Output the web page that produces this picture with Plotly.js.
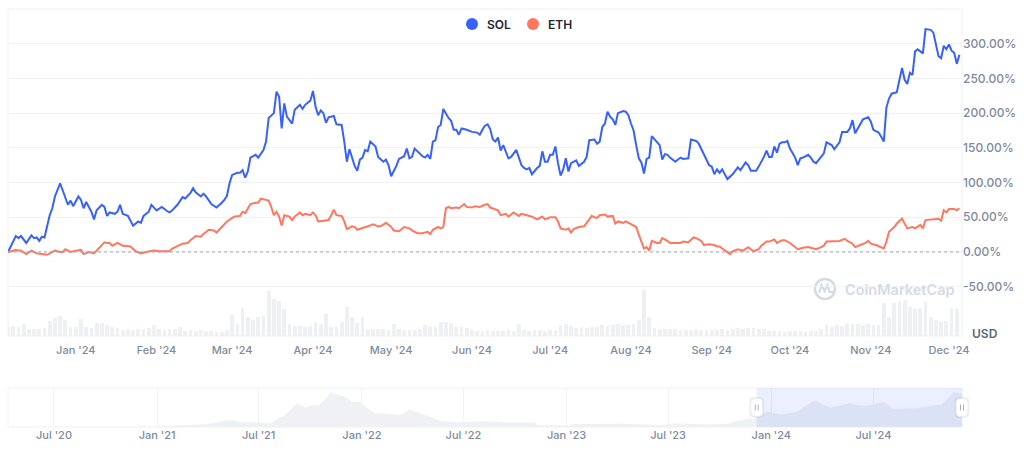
<!DOCTYPE html>
<html><head><meta charset="utf-8">
<script src="https://cdn.plot.ly/plotly-3.0.1.min.js"></script>
<style>html,body{margin:0;padding:0;background:#fff;overflow:hidden}#chart{width:1024px;height:449px}</style>
</head><body><div id="chart"></div>
<script>
// ---------------- DATA ----------------
const seriesNames = ['SOL', 'ETH'];
const seriesColors = ['#3861FB', '#FF775F'];
const startDate = '2023-12-06';   // day 0 of the percent-change series
const endDate = '2024-12-06';

// SOL: % change since start, sampled at day offsets
const solDay = [0,3,4,5,7,9,10,11,12,13,14,16,17,18,20,22,23,24,25,27,28,29,30,32,33,34,36,37,38,39,41,42,43,44,46,48,50,51,52,54,55,57,59,61,62,63,65,67,68,70,71,72,74,75,76,78,80,82,83,84,85,86,88,89,90,91,92,93,95,96,98,99,100,102,103,104,105,106,107,109,110,112,113,114,116,117,118,119,120,121,122,123,125,126,128,129,130,131,133,134,135,136,137,138,139,141,142,144,145,146,147,149,150,152,153,154,155,156,158,159,160,161,162,163,164,165,166,167,169,170,171,172,173,174,176,178,180,181,182,183,184,185,186,187,188,189,190,191,192,193,195,196,197,198,199,200,201,203,204,205,206,207,208,209,210,211,212,213,214,215,216,218,219,221,222,223,225,226,227,228,229,230,231,232,233,234,236,237,238,239,240,241,242,243,244,245,246,247,249,250,251,252,253,254,256,257,258,259,261,262,264,265,267,268,269,270,271,272,273,274,275,276,278,280,281,282,283,284,285,287,288,290,291,292,293,294,295,296,297,298,299,300,302,303,304,305,307,308,309,310,312,313,314,316,317,319,320,322,323,324,325,327,328,330,331,332,334,335,336,337,338,339,341,342,343,344,345,346,347,348,349,350,351,352,354,355,356,357,358,359,360,361,362,363,364,365];
const solPct = [0,23,20,23,13,24,20,21,16,22,21,53,63,80,99,80,68,74,66,80,75,63,72,58,47,60,68,65,52,57,55,58,68,55,52,38,44,42,52,58,68,60,65,59,57,60,68,79,77,85,92,86,80,84,80,69,64,71,75,81,99,111,114,114,118,107,116,136,140,136,147,159,193,200,231,224,178,214,195,185,205,212,206,212,218,232,209,197,204,200,186,194,196,184,183,159,130,148,124,117,133,136,147,145,159,152,137,130,133,125,109,124,134,138,149,135,137,149,141,138,136,140,134,159,161,180,183,206,193,189,176,176,169,178,176,173,172,169,176,182,184,177,162,159,165,146,154,145,135,137,147,136,125,121,119,121,112,121,124,145,130,130,140,140,152,128,110,119,135,116,128,132,124,130,137,161,162,156,159,180,185,202,195,191,183,200,203,202,197,185,175,154,135,129,113,134,136,167,158,154,133,141,140,136,130,133,136,134,135,162,160,156,140,133,125,123,112,119,114,119,112,105,112,122,118,124,129,125,117,117,123,137,146,137,137,152,143,156,158,158,160,149,136,125,135,136,140,136,130,128,138,142,158,154,148,158,173,173,178,190,171,183,191,194,188,176,172,166,159,208,221,228,230,248,265,248,242,258,255,289,292,289,286,321,320,316,298,282,279,297,292,299,290,287,271,284];

// ETH: % change since start, sampled at day offsets
const ethDay = [0,3,5,7,9,11,13,15,16,18,20,21,22,24,26,28,29,31,33,34,35,37,38,39,40,42,44,46,47,49,51,53,55,56,58,60,62,63,65,67,69,70,72,74,75,77,79,80,82,84,86,87,89,90,91,93,95,96,97,99,100,101,102,103,104,105,106,108,109,110,112,113,114,116,117,118,119,121,123,124,125,126,128,129,130,132,133,134,136,138,140,142,143,145,147,148,150,152,154,155,157,159,161,162,163,165,166,167,168,169,170,172,173,175,176,178,179,181,183,184,185,187,188,189,191,192,194,196,197,199,201,203,204,205,206,208,210,211,212,214,215,216,217,219,221,222,224,225,226,227,229,230,232,233,234,236,237,239,241,242,243,244,245,246,247,249,250,251,253,254,256,258,259,261,263,264,266,267,269,271,272,273,274,277,278,280,282,284,285,286,288,289,291,292,294,295,297,298,300,302,303,305,307,308,310,312,313,314,316,318,319,321,322,324,325,327,329,330,331,333,334,336,337,338,340,341,343,344,345,347,348,350,351,352,354,355,357,358,359,360,361,363,364,365];
const ethPct = [0,3,2,-3,2,-2,-3,-4,-2,2,0,0,4,0,2,3,-3,0,-2,2,5,14,13,13,9,13,9,9,8,1,-2,0,2,2,1,1,1,5,8,12,13,17,23,22,26,32,31,28,36,44,49,51,52,58,56,69,71,71,77,75,74,65,53,58,51,38,53,51,46,51,57,53,55,53,57,53,44,45,46,53,61,53,52,44,33,37,36,32,34,37,40,37,37,42,36,31,30,36,34,31,27,27,29,26,32,36,34,36,63,65,63,64,63,69,65,64,66,65,68,69,64,61,60,53,55,51,57,52,55,53,51,47,49,51,47,50,50,44,34,32,34,28,33,36,37,42,52,50,49,53,54,51,52,41,44,42,44,40,36,25,15,5,7,2,16,13,13,20,16,13,13,13,15,14,21,20,16,10,11,10,8,8,5,-3,1,4,2,7,4,1,4,9,15,15,18,13,17,17,13,7,4,6,7,6,4,7,9,15,15,15,16,19,16,12,7,10,13,16,12,10,8,5,15,29,36,41,48,40,34,36,34,39,34,46,47,47,48,45,60,57,62,62,60,63];

// Volume (billion USD), one value every volStepDays days from startDate
const volStepDays = 2;
const volUsdBn = [2.0,2.2,2.0,2.5,1.5,1.6,1.4,1.8,3.3,3.8,4.2,3.5,2.0,1.9,3.6,2.0,1.8,2.8,2.8,2.4,2.0,1.8,1.3,1.4,1.3,1.4,1.5,1.8,2.4,1.6,1.3,1.4,1.6,1.9,1.1,1.2,1.0,1.2,1.1,1.0,0.9,0.9,1.2,4.5,2.6,6.0,4.0,3.5,4.0,4.2,9.6,8.0,7.5,5.8,2.6,2.2,2.1,2.0,2.2,3.0,2.5,4.8,2.0,2.0,3.0,6.2,4.0,2.8,4.0,1.5,1.4,1.6,1.5,1.3,2.6,1.4,1.3,1.2,1.3,1.4,2.3,2.2,2.0,3.0,3.0,2.8,2.0,1.9,1.8,1.2,1.1,1.0,1.2,1.1,1.0,1.1,1.2,1.0,2.5,1.2,1.1,1.3,1.2,1.1,1.2,1.3,2.4,2.6,2.2,1.8,1.9,1.8,1.9,2.0,2.3,2.2,2.3,2.5,2.3,2.4,2.6,3.4,9.9,4.0,1.8,1.6,1.5,1.5,1.4,1.3,1.2,1.3,1.4,1.3,1.2,1.3,1.2,1.4,1.3,1.5,1.7,1.6,1.8,1.7,1.6,1.5,1.1,1.0,1.0,0.9,1.0,1.1,1.0,0.9,1.0,1.1,1.4,2.3,2.0,2.4,2.2,2.7,2.6,2.5,2.4,2.5,2.4,2.3,7.0,4.0,7.0,7.5,7.8,6.2,5.8,6.0,7.3,4.0,3.4,3.0,3.2,5.9,5.8];

// Navigator: SOL price history (USD)
const navDate = ['2020-04-10','2020-06-01','2020-08-01','2020-09-01','2020-11-01','2021-01-01','2021-02-01','2021-03-01','2021-04-01','2021-05-01','2021-05-18','2021-06-01','2021-07-01','2021-07-20','2021-08-15','2021-09-08','2021-09-22','2021-10-05','2021-10-15','2021-10-28','2021-11-06','2021-11-20','2021-12-01','2021-12-15','2021-12-28','2022-01-10','2022-01-22','2022-02-15','2022-03-10','2022-03-28','2022-04-15','2022-05-05','2022-05-20','2022-06-18','2022-07-15','2022-08-15','2022-09-15','2022-10-15','2022-11-05','2022-11-10','2022-12-29','2023-01-15','2023-02-15','2023-04-15','2023-06-15','2023-07-15','2023-08-15','2023-09-15','2023-10-15','2023-11-01','2023-11-15','2023-12-01','2023-12-25','2024-01-20','2024-02-15','2024-03-18','2024-04-15','2024-05-20','2024-06-15','2024-07-20','2024-08-05','2024-09-15','2024-10-15','2024-11-01','2024-11-12','2024-11-22','2024-12-06'];
const navPrice = [0.9,0.6,3,4,2,1.8,10,15,20,45,50,35,33,25,80,170,140,160,150,200,250,230,220,180,180,140,100,95,85,125,100,70,45,32,38,42,33,30,32,14,10,22,24,24,15,25,22,19,23,40,58,60,110,90,110,190,140,170,150,180,130,135,155,165,210,255,235];
const navStart = '2020-04-10';

const yTickVals = [-50, 0, 50, 100, 150, 200, 250, 300];
const currencyLabel = 'USD';
const watermarkText = 'CoinMarketCap';

// ---------------- BUILD ----------------
const DAY = 864e5;
const t0 = Date.parse(startDate + 'T00:00:00Z');
const toDate = d => new Date(t0 + d * DAY).toISOString().slice(0, 10);
const solX = solDay.map(toDate);
const ethX = ethDay.map(toDate);
const volX = volUsdBn.map((_, i) => toDate(i * volStepDays));

const W = 1024, H = 449, mL = 8, mR = 62, mT = 9, mB = 22;
const paperW = W - mL - mR, paperH = H - mT - mB;
const px = x => (x - mL) / paperW;
const py = y => (H - mB - y) / paperH;

// navigator selection position as paper fraction (from the dates)
const tNav0 = Date.parse(navStart + 'T00:00:00Z'), tNav1 = Date.parse(endDate + 'T00:00:00Z');
const navFrac = d => (Date.parse(d + 'T00:00:00Z') - tNav0) / (tNav1 - tNav0);

const FONT = 'Inter, "Noto Sans", sans-serif';
const GREY = '#808A9D';

const traces = [
  { type: 'bar', x: volX, y: volUsdBn, xaxis: 'x', yaxis: 'y3',
    width: volStepDays * DAY * 0.72, marker: { color: '#EEF0F4', line: { width: 0 } }, hoverinfo: 'skip' },
  { type: 'scatter', mode: 'lines', name: seriesNames[0], x: solX, y: solPct,
    line: { color: seriesColors[0], width: 2 }, xaxis: 'x', yaxis: 'y' },
  { type: 'scatter', mode: 'lines', name: seriesNames[1], x: ethX, y: ethPct,
    line: { color: seriesColors[1], width: 2 }, xaxis: 'x', yaxis: 'y' },
  { type: 'scatter', mode: 'lines', x: navDate, y: navPrice, xaxis: 'x2', yaxis: 'y2',
    fill: 'tozeroy', fillcolor: '#EFF1F4', line: { color: '#EFF1F4', width: 0 }, hoverinfo: 'skip' }
];

const mainBottom = py(336), navTop = py(388);
const navMid = navTop / 2;

function handle(xf) {
  return [
    { type: 'path', xref: 'paper', xsizemode: 'pixel', xanchor: xf, yref: 'paper', ysizemode: 'pixel', yanchor: navMid,
      path: 'M -7.5 -6 Q -7.5 -10.5 -3 -10.5 L 3 -10.5 Q 7.5 -10.5 7.5 -6 L 7.5 6 Q 7.5 10.5 3 10.5 L -3 10.5 Q -7.5 10.5 -7.5 6 Z',
      fillcolor: 'rgba(0,0,0,0.05)', line: { width: 0 }, layer: 'above' },
    { type: 'path', xref: 'paper', xsizemode: 'pixel', xanchor: xf, yref: 'paper', ysizemode: 'pixel', yanchor: navMid,
      path: 'M -6 -5 Q -6 -9 -2 -9 L 2 -9 Q 6 -9 6 -5 L 6 5 Q 6 9 2 9 L -2 9 Q -6 9 -6 5 Z',
      fillcolor: '#FFFFFF', line: { color: '#E6E9EF', width: 1 }, layer: 'above' },
    { type: 'path', xref: 'paper', xsizemode: 'pixel', xanchor: xf, yref: 'paper', ysizemode: 'pixel', yanchor: navMid,
      path: 'M -1.5 -3 L -1.5 3 M 1.5 -3 L 1.5 3', line: { color: '#A6B0C3', width: 1 }, layer: 'above' }
  ];
}

const shapes = [
  // main plot frame
  { type: 'rect', xref: 'paper', yref: 'paper', x0: 0, x1: 1, y0: mainBottom, y1: 1,
    line: { color: '#EEF1F5', width: 1 }, fillcolor: 'rgba(0,0,0,0)', layer: 'below' },
  // dotted zero line
  { type: 'line', xref: 'paper', x0: 0, x1: 1, yref: 'y', y0: 0, y1: 0,
    line: { color: '#A1A7B3', width: 1, dash: 'dot' }, layer: 'above' },
  // navigator frame
  { type: 'rect', xref: 'paper', yref: 'paper', x0: 0, x1: 1, y0: 0, y1: navTop,
    line: { color: '#F0F2F5', width: 1 }, fillcolor: 'rgba(0,0,0,0)', layer: 'below' },
  // navigator selection
  { type: 'rect', xref: 'x2', x0: startDate, x1: endDate, yref: 'paper', y0: 0, y1: navTop,
    fillcolor: 'rgba(56,97,251,0.10)', line: { width: 0 }, layer: 'above' },
  ...handle(navFrac(startDate)), ...handle(navFrac(endDate)),
  // legend dots
  { type: 'circle', xref: 'paper', xsizemode: 'pixel', xanchor: px(472), x0: -6, x1: 6,
    yref: 'paper', ysizemode: 'pixel', yanchor: py(24), y0: -6, y1: 6, fillcolor: seriesColors[0], line: { width: 0 } },
  { type: 'circle', xref: 'paper', xsizemode: 'pixel', xanchor: px(533), x0: -6, x1: 6,
    yref: 'paper', ysizemode: 'pixel', yanchor: py(24), y0: -6, y1: 6, fillcolor: seriesColors[1], line: { width: 0 } },
  // watermark logo
  { type: 'circle', xref: 'paper', xsizemode: 'pixel', xanchor: px(825), x0: -10, x1: 10,
    yref: 'paper', ysizemode: 'pixel', yanchor: py(289), y0: -10, y1: 10, fillcolor: 'rgba(0,0,0,0)',
    line: { color: '#D5DBE5', width: 2.5 }, layer: 'below' },
  { type: 'path', xref: 'paper', xsizemode: 'pixel', xanchor: px(825), yref: 'paper', ysizemode: 'pixel', yanchor: py(289),
    path: 'M -6 -4 L -3.5 4 L -0.5 -2 L 2.5 4 L 4.5 -3 L 8 -3', line: { color: '#D5DBE5', width: 2.2 }, layer: 'below' }
];

const annotations = [
  { xref: 'paper', yref: 'paper', x: px(485), y: py(24), xanchor: 'left', yanchor: 'middle', showarrow: false,
    text: seriesNames[0], font: { family: FONT, size: 12, color: '#222531', weight: 600 } },
  { xref: 'paper', yref: 'paper', x: px(546), y: py(24), xanchor: 'left', yanchor: 'middle', showarrow: false,
    text: seriesNames[1], font: { family: FONT, size: 12, color: '#222531', weight: 600 } },
  { xref: 'paper', yref: 'paper', x: px(985), y: py(333), xanchor: 'center', yanchor: 'middle', showarrow: false,
    text: currencyLabel, font: { family: FONT, size: 12, color: '#58667E', weight: 600 } },
  { xref: 'paper', yref: 'paper', x: px(843), y: py(289), xanchor: 'left', yanchor: 'middle', showarrow: false,
    text: watermarkText, font: { family: FONT, size: 14.5, color: '#D5DBE5', weight: 600 } }
];

const tickFont = { family: FONT, size: 11, color: GREY, weight: 500 };

const layout = {
  width: W, height: H,
  margin: { l: mL, r: mR, t: mT, b: mB },
  paper_bgcolor: '#FFFFFF', plot_bgcolor: 'rgba(0,0,0,0)',
  showlegend: false,
  bargap: 0,
  xaxis: { domain: [0, 1], anchor: 'y', type: 'date', range: [startDate, endDate],
    showgrid: false, zeroline: false, showline: false,
    dtick: 'M1', tick0: '2024-01-01', tickformat: "%b '%y",
    ticks: 'outside', ticklen: 4, tickcolor: 'rgba(0,0,0,0)', tickfont: tickFont },
  yaxis: { domain: [mainBottom, 1], anchor: 'x', side: 'right', range: [-121, 350],
    tickvals: yTickVals, ticktext: yTickVals.map(v => v.toFixed(2) + '%'),
    showgrid: true, gridcolor: '#EFF2F5', gridwidth: 1, zeroline: false, showline: false,
    ticks: '', tickfont: Object.assign({}, tickFont, { size: 12 }) },
  yaxis3: { overlaying: 'y', anchor: 'x', range: [0, 70], visible: false, showgrid: false },
  xaxis2: { domain: [0, 1], anchor: 'y2', type: 'date', range: [navStart, endDate],
    showgrid: true, gridcolor: '#F0F2F5', zeroline: false, showline: false,
    dtick: 'M6', tick0: '2020-07-01', tickformat: "%b '%y",
    ticks: '', tickfont: tickFont },
  yaxis2: { domain: [0, navTop], anchor: 'x2', range: [0, 280], visible: false, showgrid: false },
  shapes: shapes,
  annotations: annotations
};

Plotly.newPlot('chart', traces, layout, { staticPlot: true, displayModeBar: false });
</script>
</body></html>
